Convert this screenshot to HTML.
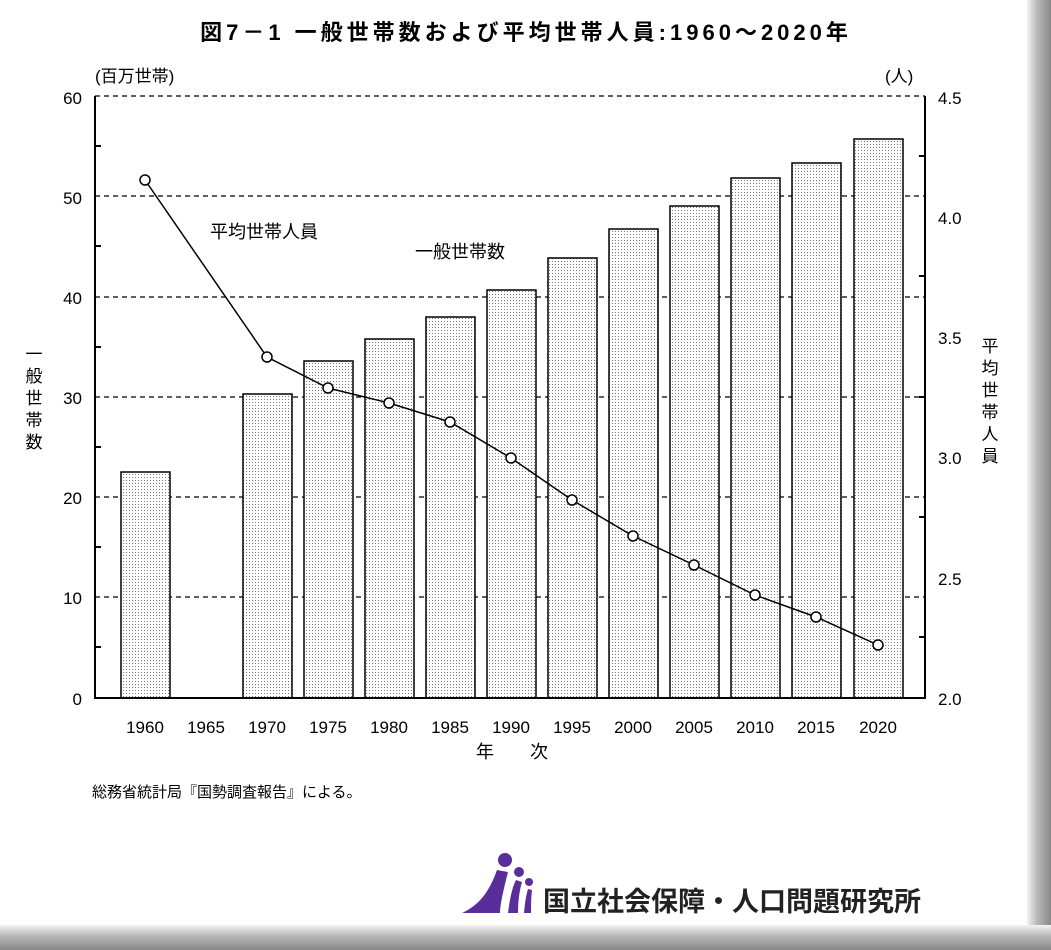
<!DOCTYPE html>
<html><head><meta charset="utf-8"><style>
body{margin:0;width:1051px;height:950px;background:#fff;overflow:hidden;position:relative;font-family:"Liberation Sans","Noto Sans CJK JP",sans-serif}
.r{position:absolute;right:0;top:0;width:24px;height:950px;background:linear-gradient(90deg,#f4f4f4,#bbb 40%,#888)}
.b{position:absolute;left:0;bottom:0;width:1051px;height:25px;background:linear-gradient(180deg,#f4f4f4,#bbb 40%,#888)}
</style></head><body>
<div class="r"></div><div class="b"></div>
<svg width="1051" height="950" style="position:absolute;left:0;top:0" font-family="Liberation Sans, Noto Sans CJK JP, sans-serif">
<defs><pattern id="d" width="3" height="3" patternUnits="userSpaceOnUse"><rect width="3" height="3" fill="#fff"/><rect width="1" height="1" fill="#777"/></pattern></defs>
<text x="526" y="40" font-size="22" font-weight="bold" text-anchor="middle" letter-spacing="4">図7－1 一般世帯数および平均世帯人員:1960～2020年</text>
<text x="95" y="82" font-size="17">(百万世帯)</text>
<text x="885" y="82" font-size="17">(人)</text>
<g stroke="#000" stroke-dasharray="5,4" stroke-width="1.2">
<line x1="95" y1="96" x2="925" y2="96"/><line x1="95" y1="196" x2="925" y2="196"/><line x1="95" y1="297" x2="925" y2="297"/><line x1="95" y1="397" x2="925" y2="397"/><line x1="95" y1="497" x2="925" y2="497"/><line x1="95" y1="597" x2="925" y2="597"/>
</g>
<g fill="url(#d)" stroke="#000" stroke-width="1.5">
<rect x="121" y="472" width="49" height="226"/>
<rect x="243" y="394" width="49" height="304"/>
<rect x="304" y="361" width="49" height="337"/>
<rect x="365" y="339" width="49" height="359"/>
<rect x="426" y="317" width="49" height="381"/>
<rect x="487" y="290" width="49" height="408"/>
<rect x="548" y="258" width="49" height="440"/>
<rect x="609" y="229" width="49" height="469"/>
<rect x="670" y="206" width="49" height="492"/>
<rect x="731" y="178" width="49" height="520"/>
<rect x="792" y="163" width="49" height="535"/>
<rect x="854" y="139" width="49" height="559"/>
</g>
<g stroke="#000" stroke-width="2" fill="none">
<polyline points="95,96 95,698 925,698 925,96"/>
<path d="M95,146h6M95,246h6M95,347h6M95,447h6M95,547h6M95,647h6M925,156h-6M925,276h-6M925,397h-6M925,517h-6M925,637h-6"/>
</g>
<polyline fill="none" stroke="#000" stroke-width="1.5" points="145,180 267,357 328,388 389,403 450,422 511,458 572,500 633,536 694,565 755,595 816,617 878,645"/>
<g fill="#fff" stroke="#000" stroke-width="1.5">
<circle cx="145" cy="180" r="5"/><circle cx="267" cy="357" r="5"/><circle cx="328" cy="388" r="5"/><circle cx="389" cy="403" r="5"/><circle cx="450" cy="422" r="5"/><circle cx="511" cy="458" r="5"/><circle cx="572" cy="500" r="5"/><circle cx="633" cy="536" r="5"/><circle cx="694" cy="565" r="5"/><circle cx="755" cy="595" r="5"/><circle cx="816" cy="617" r="5"/><circle cx="878" cy="645" r="5"/>
</g>
<g font-size="17" text-anchor="end">
<text x="82" y="104">60</text><text x="82" y="204">50</text><text x="82" y="304">40</text><text x="82" y="404">30</text><text x="82" y="504">20</text><text x="82" y="604">10</text><text x="82" y="705">0</text>
</g>
<g font-size="17">
<text x="938" y="104">4.5</text><text x="938" y="224">4.0</text><text x="938" y="344">3.5</text><text x="938" y="464">3.0</text><text x="938" y="585">2.5</text><text x="938" y="705">2.0</text>
</g>
<g font-size="17" text-anchor="middle">
<text x="145" y="733">1960</text><text x="206" y="733">1965</text><text x="267" y="733">1970</text><text x="328" y="733">1975</text><text x="389" y="733">1980</text><text x="450" y="733">1985</text><text x="511" y="733">1990</text><text x="572" y="733">1995</text><text x="633" y="733">2000</text><text x="694" y="733">2005</text><text x="755" y="733">2010</text><text x="816" y="733">2015</text><text x="878" y="733">2020</text>
<text x="512" y="758" font-size="18">年　　次</text>
<text x="34" y="360">一</text><text x="34" y="382">般</text><text x="34" y="404">世</text><text x="34" y="426">帯</text><text x="34" y="448">数</text>
<text x="990" y="352">平</text><text x="990" y="374">均</text><text x="990" y="396">世</text><text x="990" y="418">帯</text><text x="990" y="440">人</text><text x="990" y="462">員</text>
</g>
<text x="210" y="238" font-size="18">平均世帯人員</text>
<text x="415" y="258" font-size="18">一般世帯数</text>
<text x="92" y="797" font-size="15">総務省統計局『国勢調査報告』による。</text>
<g fill="#5a2e9a">
<circle cx="505" cy="860" r="7"/><circle cx="519" cy="872" r="5"/><circle cx="529" cy="882" r="4"/>
<path d="M462,913 C480,905 490,890 497,870 L508,872 C503,892 500,905 500,913 Z"/>
<path d="M508,913 C510,898 512,888 516,880 L522,882 C519,892 518,903 518,913 Z"/>
<path d="M524,913 C525,903 526,895 528,889 L532,890 C531,898 531,905 531,913 Z"/>
</g>
<text x="543" y="911" font-size="27" font-weight="bold" fill="#222">国立社会保障・人口問題研究所</text>
</svg>
</body></html>
